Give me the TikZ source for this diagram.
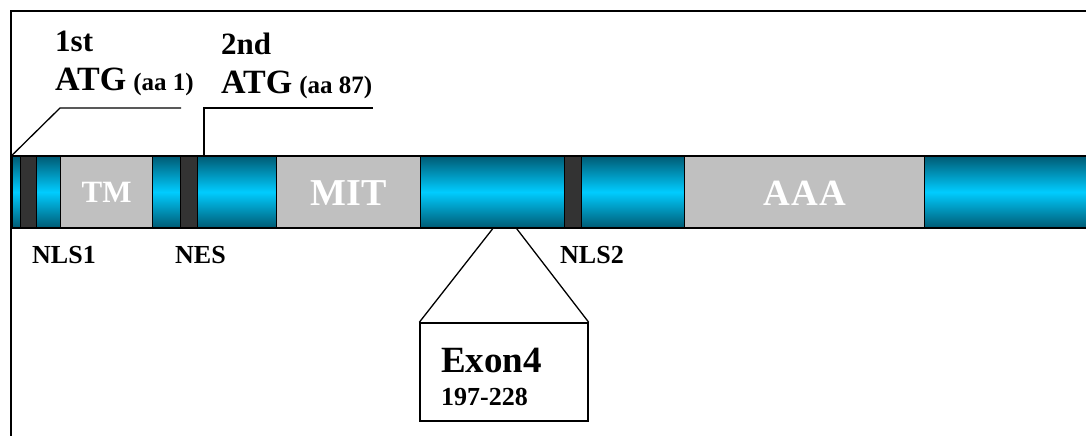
\documentclass[tikz,border=0pt]{standalone}
\usepackage{fontspec}
\setmainfont{Liberation Serif}
\definecolor{bluedark}{HTML}{005A73}
\definecolor{bluemid}{HTML}{00CCFF}
\definecolor{domgray}{HTML}{C0C0C0}
\definecolor{motif}{HTML}{333333}
\newcommand\fs[1]{\fontsize{#1}{#1}\selectfont\bfseries}
\tikzset{
  seg/.style={rectangle, inner sep=0pt, minimum height=72pt, draw=black, line width=1.4pt, anchor=west},
  blueseg/.style={seg, top color=bluedark, bottom color=bluedark, middle color=bluemid},
  darkseg/.style={seg, fill=motif},
  grayseg/.style={seg, fill=domgray, text=white},
  lbl/.style={inner sep=0pt, anchor=base west, text=black},
  leader/.style={draw=black, line width=1.3pt},
}
\begin{document}
\begin{tikzpicture}[x=1pt,y=-1pt]
\useasboundingbox (0,0) rectangle (1086,436);
\fill[white] (0,0) rectangle (1086,436);
\begin{scope}
\clip (0,0) rectangle (1086,436);
\draw[line width=2pt] (1095,11) -- (11,11) -- (11,445);
% bar segments
\node[blueseg, minimum width=8pt]   (b0)  at (12,192) {};
\node[darkseg, minimum width=16pt]  (n1)  at (20,192) {};
\node[blueseg, minimum width=24pt]  (b1)  at (36,192) {};
\node[grayseg, minimum width=92pt]  (tm)  at (60,192) {};
\node[blueseg, minimum width=28pt]  (b2)  at (152,192) {};
\node[darkseg, minimum width=17pt]  (nes) at (180,192) {};
\node[blueseg, minimum width=79pt]  (b3)  at (197,192) {};
\node[grayseg, minimum width=144pt] (mit) at (276,192) {};
\node[blueseg, minimum width=144pt] (b4)  at (420,192) {};
\node[darkseg, minimum width=17pt]  (n2)  at (564,192) {};
\node[blueseg, minimum width=103pt] (b5)  at (581,192) {};
\node[grayseg, minimum width=240pt] (aaa) at (684,192) {};
\node[blueseg, minimum width=175pt] (b6)  at (924,192) {};
\end{scope}
% domain labels
\node[text=white, inner sep=0pt, font=\fs{31}] (tmt)  at (tm.center)  {TM};
\node[text=white, inner sep=0pt, font=\fs{38}] (mitt) at ([yshift=-1]mit.center) {MIT};
\node[text=white, inner sep=0pt, font=\fs{37}] (aaat) at ([yshift=-1]aaa.center) {A\kern1pt A\kern1pt A};
% ATG labels
\node[lbl, font=\fs{31}] (l1a) at (55,52) {1st};
\node[lbl, font=\fs{34}] (l1b) at (55,90) {ATG\kern7pt{\fs{25}(aa 1)}};
\node[lbl, font=\fs{31}] (l2a) at (221,55) {2nd};
\node[lbl, font=\fs{34}] (l2b) at (221,93) {ATG\kern7pt{\fs{25}(aa 87)}};
\coordinate (k1) at (60,108);
\coordinate (k1e) at (181,108);
\coordinate (k2e) at (373,108);
\draw[leader] (b0.north west) -- (k1) -- (k1e);
\draw[leader] ([xshift=7pt]b3.north west) |- (k2e);
% motif labels
\node[lbl, font=\fs{26}] (nls1) at (32,263) {NLS1};
\node[lbl, font=\fs{26}] (nesl) at (175,263) {NES};
\node[lbl, font=\fs{26}] (nls2) at (560,263) {NLS2};
% exon 4
\node[rectangle, draw=black, line width=1.4pt, fill=white, minimum width=168pt, minimum height=98pt, inner sep=0pt] (ex) at (504,372) {};
\draw[leader] (b4.south) -- (ex.north west);
\draw[leader] ([xshift=24pt]b4.south) -- (ex.north east);
\node[lbl, font=\fs{37}] (ext) at (441,372) {Exon4};
\node[lbl, font=\fs{26}] (exr) at (441,405) {197-228};
\end{tikzpicture}
\end{document}
